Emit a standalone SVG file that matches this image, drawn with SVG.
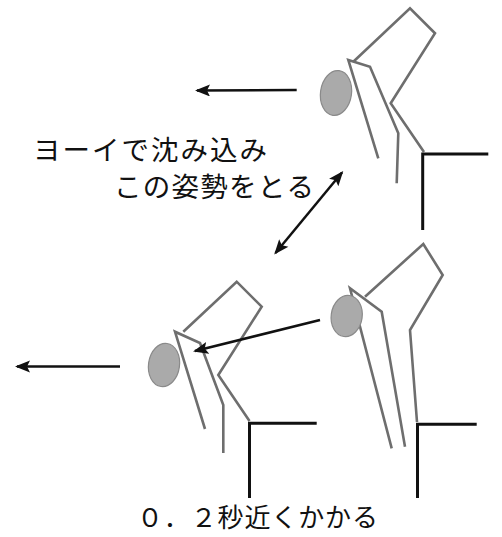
<svg xmlns="http://www.w3.org/2000/svg" width="502" height="537" viewBox="0 0 502 537">
  <style>
    .limb { fill: none; stroke: #6e6e6e; stroke-width: 2.6; stroke-linejoin: miter; stroke-linecap: butt; }
    .head { fill: #aaaaaa; stroke: #8a8a8a; stroke-width: 1.2; }
    .seat { fill: none; stroke: #111; stroke-width: 3; stroke-linecap: butt; stroke-linejoin: miter; }
    .arrow { fill: none; stroke: #111; stroke-width: 2.5; }
    .label { font-family: "Noto Sans CJK JP", "Noto Sans", sans-serif; font-size: 27.5px; fill: #111; }
    .note { font-size: 26px; }
  </style>
  <defs>
    <marker id="head-end" markerUnits="userSpaceOnUse" markerWidth="18" markerHeight="14" refX="13" refY="6" orient="auto">
      <path d="M0,0 L15,6 L0,12 L3,6 Z" fill="#111"/>
    </marker>
    <marker id="head-start" markerUnits="userSpaceOnUse" markerWidth="18" markerHeight="14" refX="2" refY="6" orient="auto">
      <path d="M15,0 L0,6 L15,12 L12,6 Z" fill="#111"/>
    </marker>
  </defs>
  <rect width="502" height="537" fill="#ffffff"/>

  <!-- crouched start position (top) -->
  <g id="figure-top">
    <polyline class="limb" points="353.3,61.7 410,8.3 435,33.3 390.7,103.3 424,152"/>
    <polyline class="limb" points="378.3,158.3 348.3,60 370,66.7 398.3,133.3 396.7,183.3"/>
    <ellipse class="head" cx="336" cy="93" rx="15.5" ry="22.5" transform="rotate(8 336 93)"/>
    <polyline class="seat" points="488.3,154 422.7,154 422.7,230"/>
  </g>

  <!-- forward lean (bottom left) -->
  <g id="figure-bottom-left">
    <polyline class="limb" points="183.3,331.7 236.7,281.7 261.7,306.7 218.3,375 249.5,421"/>
    <polyline class="limb" points="205,429 175,331.7 200,343 223.3,405 223.3,453"/>
    <ellipse class="head" cx="164" cy="365" rx="15.5" ry="21.7" transform="rotate(8 164 365)"/>
    <polyline class="seat" points="316.7,423.3 249.5,423.3 249.5,498"/>
  </g>

  <!-- upright set position (bottom right) -->
  <g id="figure-bottom-right">
    <polyline class="limb" points="365,296.7 423.3,244 442.7,275 410,330 417,422"/>
    <polyline class="limb" points="391.7,448.3 350,288.3 381.7,311.7 405,446.7"/>
    <ellipse class="head" cx="346.7" cy="316" rx="15.5" ry="20.7" transform="rotate(8 346.7 316)"/>
    <polyline class="seat" points="476.7,424.3 417.5,424.3 417.5,498"/>
  </g>

  <g id="connectors">
    <line class="arrow" x1="296.7" y1="90" x2="197" y2="90.5" marker-end="url(#head-end)"/>
    <line class="arrow" x1="320" y1="320" x2="195" y2="351" marker-end="url(#head-end)"/>
    <line class="arrow" x1="120" y1="366.5" x2="17" y2="366.5" marker-end="url(#head-end)"/>
    <line class="arrow" x1="275.5" y1="253" x2="342" y2="172.5" marker-start="url(#head-start)" marker-end="url(#head-end)"/>
  </g>

  <g id="labels">
    <text class="label" x="33" y="160" textLength="234" lengthAdjust="spacing">ヨーイで沈み込み</text>
    <text class="label" x="114" y="197" textLength="200" lengthAdjust="spacing">この姿勢をとる</text>
    <text class="label note" x="137" y="527" textLength="241" lengthAdjust="spacing">０．２秒近くかかる</text>
  </g>
</svg>
